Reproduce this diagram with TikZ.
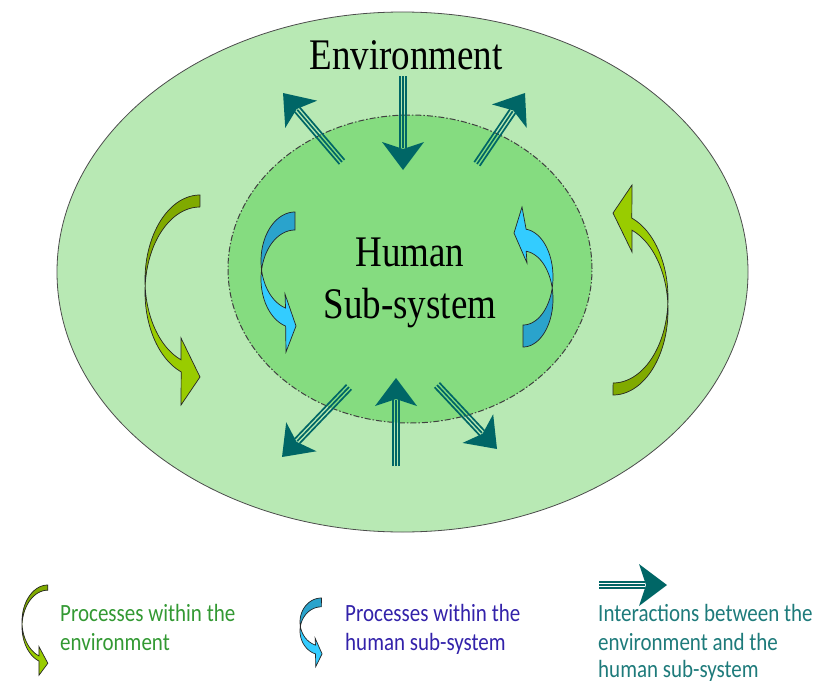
\documentclass[tikz,border=0pt]{standalone}
\usepackage{graphicx}
\usepackage{fontspec}
\setmainfont{Liberation Serif}
\newfontfamily\legendfont{Carlito}
\usetikzlibrary{calc}
\definecolor{outerfill}{HTML}{B8E9B4}
\definecolor{innerfill}{HTML}{85DC80}
\definecolor{tealc}{HTML}{006666}
\definecolor{gdark}{HTML}{80AA00}
\definecolor{glight}{HTML}{99CC00}
\definecolor{bdark}{HTML}{2AA3CC}
\definecolor{blight}{HTML}{33CCFF}
\definecolor{txtgreen}{HTML}{339933}
\definecolor{txtblue}{HTML}{3322AA}
\definecolor{txtteal}{HTML}{1E7B7B}
\tikzset{
  shaftline/.style={draw=tealc, line width=1.7pt},
  headfill/.style={fill=tealc},
  outerell/.style={fill=outerfill, draw=black!70, line width=0.8pt},
  innerell/.style={fill=innerfill, draw=black!75, line width=1pt, dash pattern=on 6pt off 2pt on 1.5pt off 2pt},
  curveline/.style={draw=black!85, line width=0.7pt},
  bigtext/.style={font=\fontsize{37}{44}\selectfont, inner sep=0pt, anchor=base},
  legendtext/.style={font=\legendfont\fontsize{21}{25}\selectfont, inner sep=0pt, anchor=base west},
}
\newcommand\vs[1]{\scalebox{1}[1.18]{#1}}
\newcommand\tealarrow[2]{%
  \path let \p1=(#1), \p2=(#2) in \pgfextra{%
    \pgfmathsetmacro\tmpang{atan2(\y2-\y1,\x2-\x1)}\global\let\arrang\tmpang
    \pgfmathsetmacro\tmplen{veclen(\x2-\x1,\y2-\y1)}\global\let\arrlen\tmplen};
  \begin{scope}[shift={(#1)}, rotate=\arrang]
    \foreach \v in {-3.3,0,3.3} \draw[shaftline] (0,\v) -- (\arrlen-22,\v);
    \fill[headfill] (\arrlen,0) -- (\arrlen-28,21) -- (\arrlen-21,0) -- (\arrlen-28,-21) -- cycle;
  \end{scope}}
% #1 cx #2 cy #3 rx #4 ry #5 d #6 end angle #7 H1 #8 tip #9 H2
\newcommand\curvedarrow[9]{%
  \def\cshape{plot[domain=0:1, samples=60, variable=\t] ({#1+#3*cos(270-(270-#6)*\t)},{#2+#4*sin(270-(270-#6)*\t)}) -- #7 -- #8 -- #9 -- plot[domain=0:1, samples=60, variable=\t] ({#1+#3*cos(#6+(270-#6)*\t)},{#2+#5+#4*sin(#6+(270-#6)*\t)}) -- cycle}%
  \fill[\clight] \cshape;
  \begin{scope}
    \clip (#1-#3-8, #2-#4-8) rectangle (#1+8, #2+#5/2);
    \fill[\cdark] \cshape;
  \end{scope}
  \draw[curveline] \cshape;
}
\begin{document}
\begin{tikzpicture}[x=1pt,y=-1pt]
\useasboundingbox (0,0) rectangle (821,685);
\fill[white] (0,0) rectangle (821,685);
% ellipses
\path[outerell] (402.5,272) ellipse [x radius=345.5pt, y radius=260pt];
\path[innerell] (410,269) ellipse [x radius=182pt, y radius=154pt];
% green curved arrows
\def\cdark{gdark}\def\clight{glight}
\curvedarrow{200}{280}{55}{85}{12}{110}{(181,338)}{(200,377)}{(181,405)}
\begin{scope}[rotate around={180:(406.5,295)}]
\curvedarrow{200}{280}{55}{85}{12}{110}{(181,338)}{(200,377)}{(181,405)}
\end{scope}
% blue curved arrows
\def\cdark{bdark}\def\clight{blight}
\curvedarrow{295}{261}{34}{49}{18}{106}{(285,294)}{(296,326)}{(286,352)}
\begin{scope}[rotate around={180:(408,280)}]
\curvedarrow{293}{261}{30}{48}{22}{96}{(289,297)}{(302,327)}{(294,353)}
\end{scope}
% teal interaction arrows
\coordinate (tl0) at (342,162); \coordinate (tl1) at (283,93);
\coordinate (tc0) at (403,76);  \coordinate (tc1) at (403,170);
\coordinate (tr0) at (477,164); \coordinate (tr1) at (525,93);
\coordinate (bl0) at (349,387); \coordinate (bl1) at (282,457);
\coordinate (bc0) at (396,466); \coordinate (bc1) at (396,378);
\coordinate (br0) at (437,385); \coordinate (br1) at (497,449);
\tealarrow{tl0}{tl1}
\tealarrow{tc0}{tc1}
\tealarrow{tr0}{tr1}
\tealarrow{bl0}{bl1}
\tealarrow{bc0}{bc1}
\tealarrow{br0}{br1}
% texts
\node[bigtext] (env) at (406,70) {\vs{Environment}};
\node[bigtext] (human) at (410,266) {\vs{Human}};
\node[bigtext] (sub) at (410,318) {\vs{Sub-system}};
% legend
\def\cdark{gdark}\def\clight{glight}
\begin{scope}[shift={(22,585)}, xscale=0.47, yscale=0.43, shift={(-145,-195)}]
\curvedarrow{200}{280}{55}{85}{12}{110}{(181,338)}{(200,377)}{(181,405)}
\end{scope}
\def\cdark{bdark}\def\clight{blight}
\begin{scope}[shift={(300,598)}, xscale=0.63, yscale=0.49, shift={(-261,-212)}]
\curvedarrow{295}{261}{34}{49}{18}{106}{(285,294)}{(296,326)}{(286,352)}
\end{scope}
\coordinate (lg0) at (599,585); \coordinate (lg1) at (667,585);
\tealarrow{lg0}{lg1}
\node[legendtext, text=txtgreen] (l1a) at (60,621) {\vs{Processes within the}};
\node[legendtext, text=txtgreen] (l1b) at (60,650) {\vs{environment}};
\node[legendtext, text=txtblue] (l2a) at (345,621) {\vs{Processes within the}};
\node[legendtext, text=txtblue] (l2b) at (345,650) {\vs{human sub-system}};
\node[legendtext, text=txtteal] (l3a) at (598,621) {\vs{Interactions between the}};
\node[legendtext, text=txtteal] (l3b) at (598,650) {\vs{environment and the}};
\node[legendtext, text=txtteal] (l3c) at (598,677) {\vs{human sub-system}};
\end{tikzpicture}
\end{document}
